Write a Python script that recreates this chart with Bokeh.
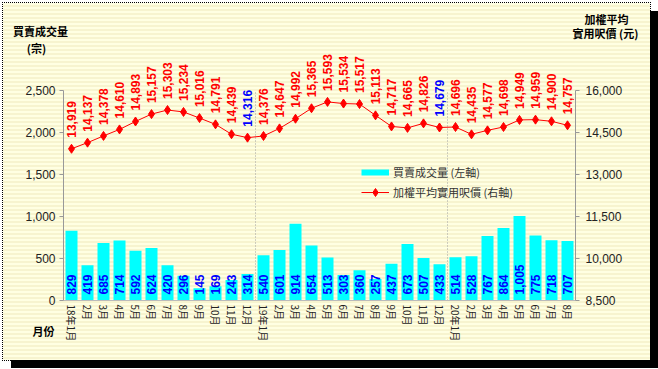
import numpy as np
from bokeh.plotting import figure
from bokeh.models import (Range1d, LinearAxis, FixedTicker, Label, Legend, LegendItem,
                          NumeralTickFormatter, ColumnDataSource)
from bokeh.core.properties import value
from bokeh.embed import file_html
from bokeh.resources import INLINE

months = ["18年1月", "2月", "3月", "4月", "5月", "6月", "7月", "8月", "9月", "10月", "11月", "12月",
          "19年1月", "2月", "3月", "4月", "5月", "6月", "7月", "8月", "9月", "10月", "11月", "12月",
          "20年1月", "2月", "3月", "4月", "5月", "6月", "7月", "8月"]
volume = [829, 419, 685, 714, 592, 624, 420, 296, 145, 169, 243, 314,
          540, 601, 914, 654, 513, 303, 360, 257, 437, 673, 507, 433,
          514, 528, 767, 864, 1005, 775, 718, 707]
price = [13919, 14137, 14378, 14610, 14893, 15157, 15303, 15234, 15016, 14791, 14439, 14316,
         14376, 14647, 14992, 15365, 15593, 15534, 15517, 15113, 14717, 14665, 14826, 14679,
         14696, 14435, 14577, 14698, 14949, 14959, 14900, 14757]
left_ticks = [0, 500, 1000, 1500, 2000, 2500]
right_ticks = [8500, 10000, 11500, 13000, 14500, 16000]

xs = list(range(1, len(months) + 1))
price_colors = ["#0000FF" if m.endswith("12月") else "#FF0000" for m in months]
src = ColumnDataSource(dict(
    x=xs, vol=volume, price=price,
    vol_txt=[f"{v:,}" for v in volume],
    price_txt=[f"{v:,}" for v in price],
    pcol=price_colors,
))

FONT = "Liberation Sans"
CJK = "Noto Sans CJK TC"

AX_H = 210      # pixel height of the axis span 0..2500
FR_H = 260      # frame height (extra room above for labels)
k = FR_H / AX_H
l_lo, l_hi = left_ticks[0], left_ticks[-1]
r_lo, r_hi = right_ticks[0], right_ticks[-1]

p = figure(width=647, height=357, output_backend="svg", toolbar_location=None,
           x_range=Range1d(0.5, len(months) + 0.5),
           y_range=Range1d(l_lo, l_lo + (l_hi - l_lo) * k),
           min_border_left=60, min_border_right=75, min_border_top=37, min_border_bottom=60,
           styles={"background": "repeating-linear-gradient(to bottom, #FFFFE2 0px, #FFFFE2 2px, #F7F4CF 2px, #F7F4CF 4px)",
                   "box-shadow": "8px 8px 0 0 #000",
                   "outline": "1px dotted #000",
                   "margin-left": "3px", "margin-top": "3px"})
p.border_fill_color = None
p.background_fill_color = None
p.outline_line_color = None
p.xgrid.visible = False
p.ygrid.visible = False
p.extra_y_ranges = {"price": Range1d(r_lo, r_lo + (r_hi - r_lo) * k)}

# year separators
sep = [xs[i] - 0.5 for i, m in enumerate(months) if "年" in m and i > 0]
p.segment(x0=sep, x1=sep, y0=[l_lo] * len(sep), y1=[l_hi] * len(sep),
          line_color="#A0A0A0", line_dash="1 2", line_width=1)

bars = p.vbar(x="x", top="vol", width=0.75, source=src, fill_color="#00FFFF", line_color=None)
ln = p.line(x="x", y="price", source=src, y_range_name="price", line_color="#FF0000", line_width=1)
sc = p.scatter(x="x", y="price", source=src, y_range_name="price", marker="diamond", size=9,
               fill_color="#FF0000", line_color="#FF0000")

p.text(x="x", y=0, source=src, text="vol_txt", angle=np.pi / 2, text_align="left",
       text_baseline="middle", text_font=value(FONT), text_font_style="bold",
       text_font_size="12px", text_color="#0000FF", y_offset=-6)
p.text(x="x", y="price", source=src, text="price_txt", angle=np.pi / 2, text_align="left",
       text_baseline="middle", text_font=value(FONT), text_font_style="bold",
       text_font_size="12px", text_color="pcol", y_offset=-11, y_range_name="price")

# axes
ya = p.yaxis[0]
ya.ticker = FixedTicker(ticks=left_ticks)
ya.bounds = (l_lo, l_hi)
ya.formatter = NumeralTickFormatter(format="0,0")
ra = LinearAxis(y_range_name="price", ticker=FixedTicker(ticks=right_ticks),
                formatter=NumeralTickFormatter(format="0,0"), bounds=(r_lo, r_hi))
p.add_layout(ra, "right")
for ax in (ya, ra):
    ax.axis_line_color = "#999999"
    ax.major_tick_line_color = "#999999"
    ax.major_tick_out = 4
    ax.major_tick_in = 0
    ax.minor_tick_line_color = None
    ax.major_label_text_font = FONT
    ax.major_label_text_font_size = "12px"
    ax.major_label_text_color = "#222222"
ya.major_label_standoff = 4
ra.major_label_standoff = 6

xa = p.xaxis[0]
xa.ticker = FixedTicker(ticks=xs)
xa.major_label_overrides = {x: m for x, m in zip(xs, months)}
xa.major_label_orientation = "vertical"
xa.major_label_text_font = CJK
xa.major_label_text_font_size = "10px"
xa.major_label_text_color = "#222222"
xa.major_label_standoff = 4
xa.major_tick_line_color = None
xa.major_tick_out = 0
xa.major_tick_in = 0
xa.minor_tick_line_color = None
xa.axis_line_color = "#BBBBBB"

# legend
dummy = p.line(x=[np.nan], y=[np.nan], line_color="#00FFFF", line_width=6)
legend = Legend(items=[LegendItem(label="買賣成交量 (左軸)", renderers=[dummy]),
                       LegendItem(label="加權平均實用呎價 (右軸)", renderers=[ln, sc])],
                location=(298, 98), border_line_color=None, background_fill_alpha=0,
                padding=0, margin=0, spacing=0, glyph_width=28, glyph_height=20,
                label_height=20, label_standoff=4,
                label_text_font=CJK, label_text_font_size="11px", label_text_color="#333333")
p.add_layout(legend)

# axis titles: placed as labels in the side panels (side-panel labels are not clipped);
# each label's screen coordinates are relative to its own slot in that panel
def lab(x, y, t, side):
    p.add_layout(Label(x=x, y=y, x_units="screen", y_units="screen", text=t,
                       text_align="center", text_baseline="middle", text_font=CJK,
                       text_font_style="bold", text_font_size="11px", text_color="#000000"),
                 side)

lab(-23, 10, "買賣成交量", "above")
lab(543, 6, "加權平均", "above")
lab(542, 328, "實用呎價 (元)", "below")
lab(33, 253, "(宗)", "left")
lab(-582, -30, "月份", "right")

open("out.html", "w").write(file_html(p, INLINE))
